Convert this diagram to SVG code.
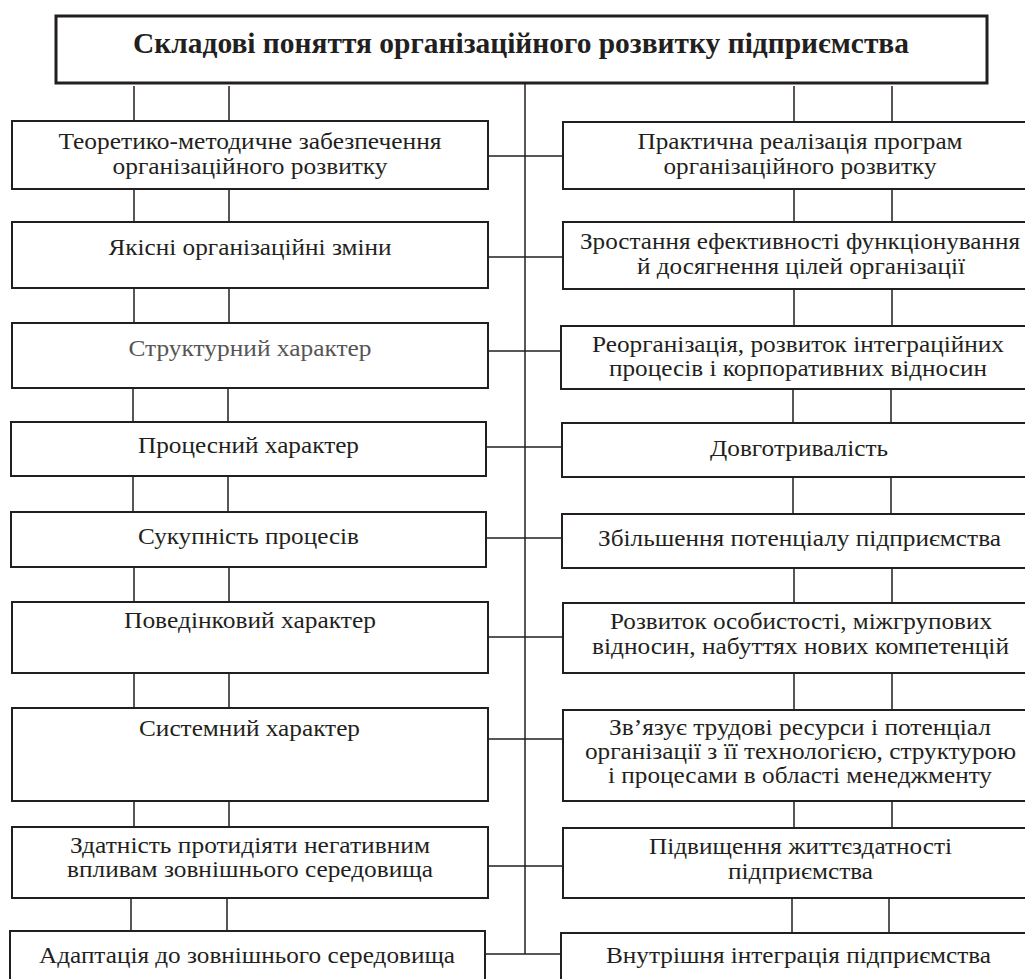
<svg xmlns="http://www.w3.org/2000/svg" width="1025" height="979" viewBox="0 0 1025 979">
<style>
.bx{fill:#fff;stroke:#231f20;stroke-width:2}
.ttl{fill:#fff;stroke:#231f20;stroke-width:3}
.ln{stroke:#231f20;stroke-width:1.5;fill:none}
.tx{font-family:'Liberation Serif',serif;font-size:24px;fill:#231f20;text-anchor:middle}
.b{font-weight:bold;font-size:29px}
.g{fill:#555}
</style>
<rect width="1025" height="979" fill="#fff"/>
<g id="connectors" class="ln">
<path d="M525,84V954"/>
<path d="M134,86V121M229,86V121M794,86V122M892,86V122"/>
<path d="M134,189V222M229,189V222M794,189V222M892,189V222"/>
<path d="M134,288V323M229,288V323M794,289V326M892,289V326"/>
<path d="M133,388V422M228,388V422M793,389V423M891,389V423"/>
<path d="M133,476V512M228,476V512M793,477V514M891,477V514"/>
<path d="M134,567V602M229,567V602M794,568V603M892,568V603"/>
<path d="M134,673V708M229,673V708M794,673V710M892,673V710"/>
<path d="M134,801V827M229,801V827M794,801V828M892,801V828"/>
<path d="M131,898V931M227,898V931M792,898V933M889,898V933"/>
<path d="M488,156H563M488,257H563M488,351H563M487,447H563M487,538H563M488,637H563M488,739H563M488,866H563M485,954H561"/>
</g>
<g id="title"><rect class="ttl" x="56" y="16" width="931" height="67"/><text class="tx b" x="521" y="53" textLength="776" lengthAdjust="spacingAndGlyphs">Складові поняття організаційного розвитку підприємства</text></g>
<g id="l1"><rect class="bx" x="12" y="121" width="476" height="68"/><text class="tx" x="250" y="149" textLength="383" lengthAdjust="spacingAndGlyphs">Теоретико-методичне забезпечення</text><text class="tx" x="250" y="174" textLength="275" lengthAdjust="spacingAndGlyphs">організаційного розвитку</text></g>
<g id="l2"><rect class="bx" x="12" y="222" width="476" height="66"/><text class="tx" x="250" y="255" textLength="283" lengthAdjust="spacingAndGlyphs">Якісні організаційні зміни</text></g>
<g id="l3"><rect class="bx" x="12" y="323" width="476" height="65"/><text class="tx g" x="250" y="356" textLength="243" lengthAdjust="spacingAndGlyphs">Структурний характер</text></g>
<g id="l4"><rect class="bx" x="11" y="422" width="475" height="54"/><text class="tx" x="248.5" y="453" textLength="221" lengthAdjust="spacingAndGlyphs">Процесний характер</text></g>
<g id="l5"><rect class="bx" x="11" y="512" width="475" height="55"/><text class="tx" x="248.5" y="544" textLength="221" lengthAdjust="spacingAndGlyphs">Сукупність процесів</text></g>
<g id="l6"><rect class="bx" x="12" y="602" width="476" height="71"/><text class="tx" x="250" y="628" textLength="252" lengthAdjust="spacingAndGlyphs">Поведінковий характер</text></g>
<g id="l7"><rect class="bx" x="12" y="708" width="476" height="93"/><text class="tx" x="249.5" y="736" textLength="221" lengthAdjust="spacingAndGlyphs">Системний характер</text></g>
<g id="l8"><rect class="bx" x="12" y="827" width="476" height="71"/><text class="tx" x="250" y="853" textLength="360" lengthAdjust="spacingAndGlyphs">Здатність протидіяти негативним</text><text class="tx" x="250" y="877" textLength="366" lengthAdjust="spacingAndGlyphs">впливам зовнішнього середовища</text></g>
<g id="l9"><rect class="bx" x="10" y="931" width="475" height="60"/><text class="tx" x="247" y="963" textLength="416" lengthAdjust="spacingAndGlyphs">Адаптація до зовнішнього середовища</text></g>
<g id="r1"><rect class="bx" x="563" y="122" width="475" height="67"/><text class="tx" x="800" y="149" textLength="325" lengthAdjust="spacingAndGlyphs">Практична реалізація програм</text><text class="tx" x="800" y="174" textLength="273" lengthAdjust="spacingAndGlyphs">організаційного розвитку</text></g>
<g id="r2"><rect class="bx" x="563" y="222" width="475" height="67"/><text class="tx" x="800" y="249" textLength="440" lengthAdjust="spacingAndGlyphs">Зростання ефективності функціонування</text><text class="tx" x="801" y="274" textLength="328" lengthAdjust="spacingAndGlyphs">й досягнення цілей організації</text></g>
<g id="r3"><rect class="bx" x="561" y="326" width="477" height="63"/><text class="tx" x="798" y="352" textLength="412" lengthAdjust="spacingAndGlyphs">Реорганізація, розвиток інтеграційних</text><text class="tx" x="798" y="376" textLength="378" lengthAdjust="spacingAndGlyphs">процесів і корпоративних відносин</text></g>
<g id="r4"><rect class="bx" x="562" y="423" width="476" height="54"/><text class="tx" x="799" y="456" textLength="178" lengthAdjust="spacingAndGlyphs">Довготривалість</text></g>
<g id="r5"><rect class="bx" x="562" y="514" width="476" height="54"/><text class="tx" x="799.5" y="546" textLength="403" lengthAdjust="spacingAndGlyphs">Збільшення потенціалу підприємства</text></g>
<g id="r6"><rect class="bx" x="563" y="603" width="475" height="70"/><text class="tx" x="801" y="629" textLength="382" lengthAdjust="spacingAndGlyphs">Розвиток особистості, міжгрупових</text><text class="tx" x="800.5" y="654" textLength="417" lengthAdjust="spacingAndGlyphs">відносин, набуттях нових компетенцій</text></g>
<g id="r7"><rect class="bx" x="563" y="710" width="475" height="91"/><text class="tx" x="800" y="735" textLength="382" lengthAdjust="spacingAndGlyphs">Зв’язує трудові ресурси і потенціал</text><text class="tx" x="800.5" y="759" textLength="431" lengthAdjust="spacingAndGlyphs">організації з її технологією, структурою</text><text class="tx" x="800" y="783" textLength="384" lengthAdjust="spacingAndGlyphs">і процесами в області менеджменту</text></g>
<g id="r8"><rect class="bx" x="563" y="828" width="475" height="70"/><text class="tx" x="800.5" y="854" textLength="303" lengthAdjust="spacingAndGlyphs">Підвищення життєздатності</text><text class="tx" x="800.5" y="879" textLength="145" lengthAdjust="spacingAndGlyphs">підприємства</text></g>
<g id="r9"><rect class="bx" x="561" y="933" width="477" height="60"/><text class="tx" x="798.5" y="963" textLength="385" lengthAdjust="spacingAndGlyphs">Внутрішня інтеграція підприємства</text></g>
</svg>
